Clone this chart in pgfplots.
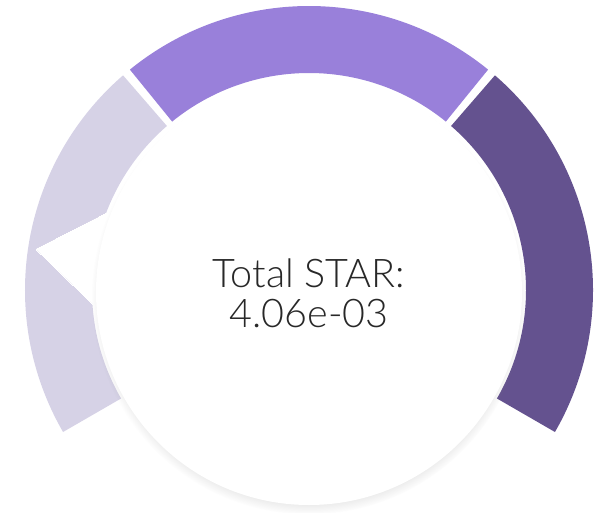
\documentclass[border=0pt]{standalone}
\usepackage{pgfplots}
\pgfplotsset{compat=1.18}
\usepackage{fontspec}
\setmainfont{Lato}[UprightFont=* Light]
\usetikzlibrary{shadows}
\definecolor{segA}{RGB}{214,210,230}
\definecolor{segB}{RGB}{153,128,218}
\definecolor{segC}{RGB}{100,82,143}
\definecolor{txt}{RGB}{40,40,40}
\begin{document}
\begin{tikzpicture}
\begin{axis}[
  x=1pt, y=1pt, scale only axis,
  xmin=-309, xmax=288, ymin=-222, ymax=290,
  hide axis, clip=false, set layers=standard,
]
\path (rel axis cs:0,0) rectangle (rel axis cs:1,1);
% gauge bands: 0-1/3, 1/3-2/3, 2/3-1 of a 240 degree arc (210 -> -30)
\begin{pgfonlayer}{axis background}
\fill[segA, overlay] ([shift={(axis cs:0,0)}]210:284pt) arc[start angle=210,end angle=130.9,radius=284pt]
  -- ([shift={(axis cs:0,0)}]130.9:217pt) arc[start angle=130.9,end angle=210,radius=217pt] -- cycle;
\fill[segB, overlay] ([shift={(axis cs:0,0)}]129.1:284pt) arc[start angle=129.1,end angle=50.9,radius=284pt]
  -- ([shift={(axis cs:0,0)}]50.9:217pt) arc[start angle=50.9,end angle=129.1,radius=217pt] -- cycle;
\fill[segC, overlay] ([shift={(axis cs:0,0)}]49.1:284pt) arc[start angle=49.1,end angle=-30,radius=284pt]
  -- ([shift={(axis cs:0,0)}]-30:217pt) arc[start angle=-30,end angle=49.1,radius=217pt] -- cycle;
\end{pgfonlayer}
% pointer (value at 171.5 degrees)
\addplot[data cs=polar, only marks, mark=triangle*, mark size=72pt, overlay,
  mark options={fill=white, draw=white, line width=0pt, rotate=81.5, xscale=1.24}] coordinates {(171.5,204)};
% centre disc
\begin{pgfonlayer}{axis foreground}
\fill[white, overlay, circular drop shadow={shadow xshift=0pt, shadow yshift=-5pt, shadow scale=1.02, opacity=0.45}]
  (axis cs:0,-2) circle[radius=213pt];
\node[anchor=base, text=txt, font=\fontsize{39.5}{40}\selectfont] at (axis cs:0,3) {Total STAR:};
\node[anchor=base, text=txt, font=\fontsize{39.5}{40}\selectfont] at (axis cs:0,-37) {4.06e-03};
\end{pgfonlayer}
\end{axis}
\end{tikzpicture}
\end{document}
